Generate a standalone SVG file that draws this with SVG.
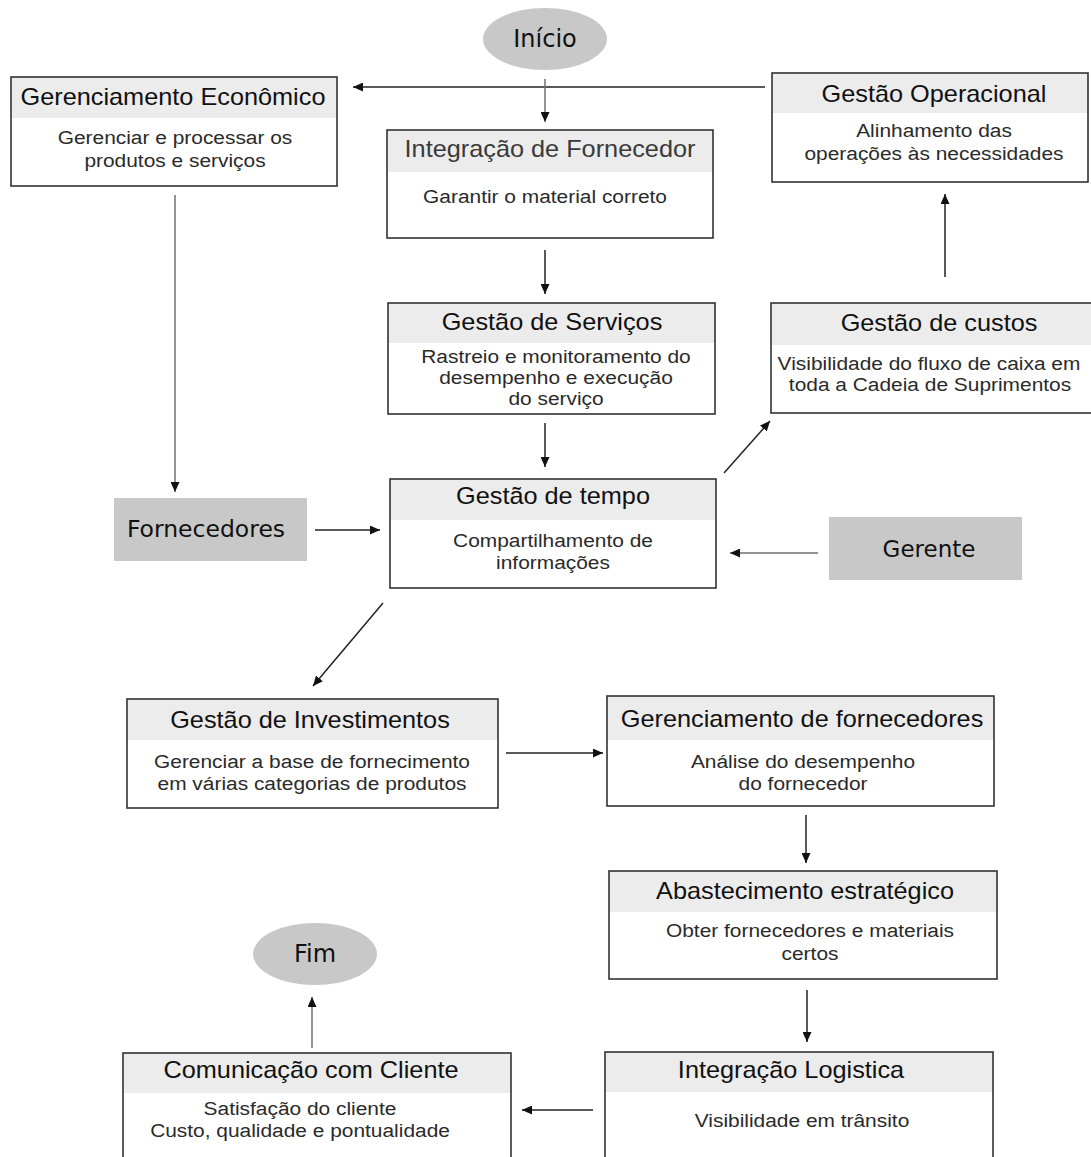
<svg xmlns="http://www.w3.org/2000/svg" width="1091" height="1157" viewBox="0 0 1091 1157">
  <style>
    .bg { fill: #ffffff; }
    .box { fill: #ffffff; }
    .band { fill: #ececec; }
    .frame { fill: none; stroke: #333333; stroke-width: 1.6; }
    .shade { fill: #c8c8c8; }
    .title { font-family: "Liberation Sans", Arial, sans-serif; font-size: 23px; fill: #111111; text-anchor: middle; }
    .title.soft { fill: #3a3a3a; }
    .body { font-family: "Liberation Sans", Arial, sans-serif; font-size: 19px; fill: #2a2a2a; text-anchor: middle; }
    .tag { font-family: "DejaVu Sans", sans-serif; font-size: 23px; fill: #111111; text-anchor: middle; }
    .term { font-family: "DejaVu Sans", sans-serif; font-size: 24px; fill: #111111; text-anchor: middle; }
    .link { fill: none; stroke: #222222; stroke-width: 1.5; marker-end: url(#head); }
    .link.grey { stroke: #707070; }
  </style>
  <defs>
    <marker id="head" markerUnits="userSpaceOnUse" markerWidth="10" markerHeight="9" refX="10" refY="4.5" orient="auto">
      <path d="M0,0 L10,4.5 L0,9 z" fill="#111111"/>
    </marker>
  </defs>

  <rect class="bg" x="0" y="0" width="1091" height="1157"/>

  <!-- connectors -->
  <g id="connectors">
    <line class="link" x1="765" y1="87" x2="353" y2="87"/>
    <line class="link grey" x1="545" y1="79" x2="545" y2="122"/>
    <line class="link grey" x1="175" y1="195" x2="175" y2="492"/>
    <line class="link" x1="545" y1="250" x2="545" y2="294"/>
    <line class="link" x1="545" y1="423" x2="545" y2="467"/>
    <line class="link" x1="315" y1="530" x2="380" y2="530"/>
    <line class="link grey" x1="818" y1="553" x2="730" y2="553"/>
    <line class="link" x1="724" y1="473" x2="770" y2="421"/>
    <line class="link" x1="945" y1="277" x2="945" y2="194"/>
    <line class="link" x1="383" y1="603" x2="313" y2="686"/>
    <line class="link" x1="506" y1="753" x2="603" y2="753"/>
    <line class="link" x1="806" y1="815" x2="806" y2="863"/>
    <line class="link" x1="807" y1="990" x2="807" y2="1042"/>
    <line class="link" x1="593" y1="1110" x2="522" y2="1110"/>
    <line class="link grey" x1="312" y1="1048" x2="312" y2="997"/>
  </g>

  <!-- start / end -->
  <g id="inicio">
    <ellipse class="shade" cx="545" cy="39" rx="62" ry="31"/>
    <text class="term" x="545" y="47">Início</text>
  </g>
  <g id="fim">
    <ellipse class="shade" cx="315" cy="954" rx="62" ry="31"/>
    <text class="term" x="315" y="962">Fim</text>
  </g>

  <!-- actors -->
  <g id="fornecedores">
    <rect class="shade" x="114" y="498" width="193" height="63"/>
    <text class="tag" x="206" y="537" style="font-size:23.5px">Fornecedores</text>
  </g>
  <g id="gerente">
    <rect class="shade" x="829" y="517" width="193" height="63"/>
    <text class="tag" x="929" y="557">Gerente</text>
  </g>

  <!-- process boxes -->
  <g id="gerenciamento-economico">
    <rect class="box" x="11" y="77" width="326" height="109"/>
    <rect class="band" x="11" y="77" width="326" height="41"/>
    <rect class="frame" x="11" y="77" width="326" height="109"/>
    <text class="title" transform="translate(173 105) scale(1.1 1)">Gerenciamento Econômico</text>
    <text class="body" transform="translate(175 144) scale(1.1 1)">Gerenciar e processar os</text>
    <text class="body" transform="translate(175 167) scale(1.1 1)">produtos e serviços</text>
  </g>

  <g id="integracao-fornecedor">
    <rect class="box" x="387" y="130" width="326" height="108"/>
    <rect class="band" x="387" y="130" width="326" height="42"/>
    <rect class="frame" x="387" y="130" width="326" height="108"/>
    <text class="title soft" transform="translate(550 157) scale(1.1 1)">Integração de Fornecedor</text>
    <text class="body" transform="translate(545 203) scale(1.1 1)">Garantir o material correto</text>
  </g>

  <g id="gestao-operacional">
    <rect class="box" x="772" y="73" width="316" height="109"/>
    <rect class="band" x="772" y="73" width="316" height="40"/>
    <rect class="frame" x="772" y="73" width="316" height="109"/>
    <text class="title" transform="translate(934 102) scale(1.1 1)">Gestão Operacional</text>
    <text class="body" transform="translate(934 137) scale(1.1 1)">Alinhamento das</text>
    <text class="body" transform="translate(934 160) scale(1.1 1)">operações às necessidades</text>
  </g>

  <g id="gestao-servicos">
    <rect class="box" x="388" y="303" width="327" height="111"/>
    <rect class="band" x="388" y="303" width="327" height="40"/>
    <rect class="frame" x="388" y="303" width="327" height="111"/>
    <text class="title" transform="translate(552 330) scale(1.1 1)">Gestão de Serviços</text>
    <text class="body" transform="translate(556 363) scale(1.1 1)">Rastreio e monitoramento do</text>
    <text class="body" transform="translate(556 384) scale(1.1 1)">desempenho e execução</text>
    <text class="body" transform="translate(556 405) scale(1.1 1)">do serviço</text>
  </g>

  <g id="gestao-custos">
    <rect class="box" x="771" y="303" width="322" height="110"/>
    <rect class="band" x="771" y="303" width="322" height="42"/>
    <rect class="frame" x="771" y="303" width="322" height="110"/>
    <text class="title" transform="translate(939 331) scale(1.1 1)">Gestão de custos</text>
    <text class="body" transform="translate(929 370) scale(1.1 1)">Visibilidade do fluxo de caixa em</text>
    <text class="body" transform="translate(930 391) scale(1.1 1)">toda a Cadeia de Suprimentos</text>
  </g>

  <g id="gestao-tempo">
    <rect class="box" x="390" y="479" width="326" height="109"/>
    <rect class="band" x="390" y="479" width="326" height="41"/>
    <rect class="frame" x="390" y="479" width="326" height="109"/>
    <text class="title" transform="translate(553 504) scale(1.1 1)">Gestão de tempo</text>
    <text class="body" transform="translate(553 547) scale(1.1 1)">Compartilhamento de</text>
    <text class="body" transform="translate(553 569) scale(1.1 1)">informações</text>
  </g>

  <g id="gestao-investimentos">
    <rect class="box" x="127" y="699" width="371" height="109"/>
    <rect class="band" x="127" y="699" width="371" height="41"/>
    <rect class="frame" x="127" y="699" width="371" height="109"/>
    <text class="title" transform="translate(310 728) scale(1.1 1)">Gestão de Investimentos</text>
    <text class="body" transform="translate(312 768) scale(1.1 1)">Gerenciar a base de fornecimento</text>
    <text class="body" transform="translate(312 790) scale(1.1 1)">em várias categorias de produtos</text>
  </g>

  <g id="gerenciamento-fornecedores">
    <rect class="box" x="607" y="696" width="387" height="110"/>
    <rect class="band" x="607" y="696" width="387" height="44"/>
    <rect class="frame" x="607" y="696" width="387" height="110"/>
    <text class="title" transform="translate(802 727) scale(1.1 1)">Gerenciamento de fornecedores</text>
    <text class="body" transform="translate(803 768) scale(1.1 1)">Análise do desempenho</text>
    <text class="body" transform="translate(803 790) scale(1.1 1)">do fornecedor</text>
  </g>

  <g id="abastecimento-estrategico">
    <rect class="box" x="609" y="871" width="388" height="108"/>
    <rect class="band" x="609" y="871" width="388" height="41"/>
    <rect class="frame" x="609" y="871" width="388" height="108"/>
    <text class="title" transform="translate(805 899) scale(1.1 1)">Abastecimento estratégico</text>
    <text class="body" transform="translate(810 937) scale(1.1 1)">Obter fornecedores e materiais</text>
    <text class="body" transform="translate(810 960) scale(1.1 1)">certos</text>
  </g>

  <g id="integracao-logistica">
    <rect class="box" x="605" y="1052" width="388" height="120"/>
    <rect class="band" x="605" y="1052" width="388" height="40"/>
    <rect class="frame" x="605" y="1052" width="388" height="120"/>
    <text class="title" transform="translate(791 1078) scale(1.1 1)">Integração Logistica</text>
    <text class="body" transform="translate(802 1127) scale(1.1 1)">Visibilidade em trânsito</text>
  </g>

  <g id="comunicacao-cliente">
    <rect class="box" x="123" y="1053" width="388" height="120"/>
    <rect class="band" x="123" y="1053" width="388" height="40"/>
    <rect class="frame" x="123" y="1053" width="388" height="120"/>
    <text class="title" transform="translate(311 1078) scale(1.1 1)">Comunicação com Cliente</text>
    <text class="body" transform="translate(300 1115) scale(1.1 1)">Satisfação do cliente</text>
    <text class="body" transform="translate(300 1137) scale(1.1 1)">Custo, qualidade e pontualidade</text>
  </g>
</svg>
